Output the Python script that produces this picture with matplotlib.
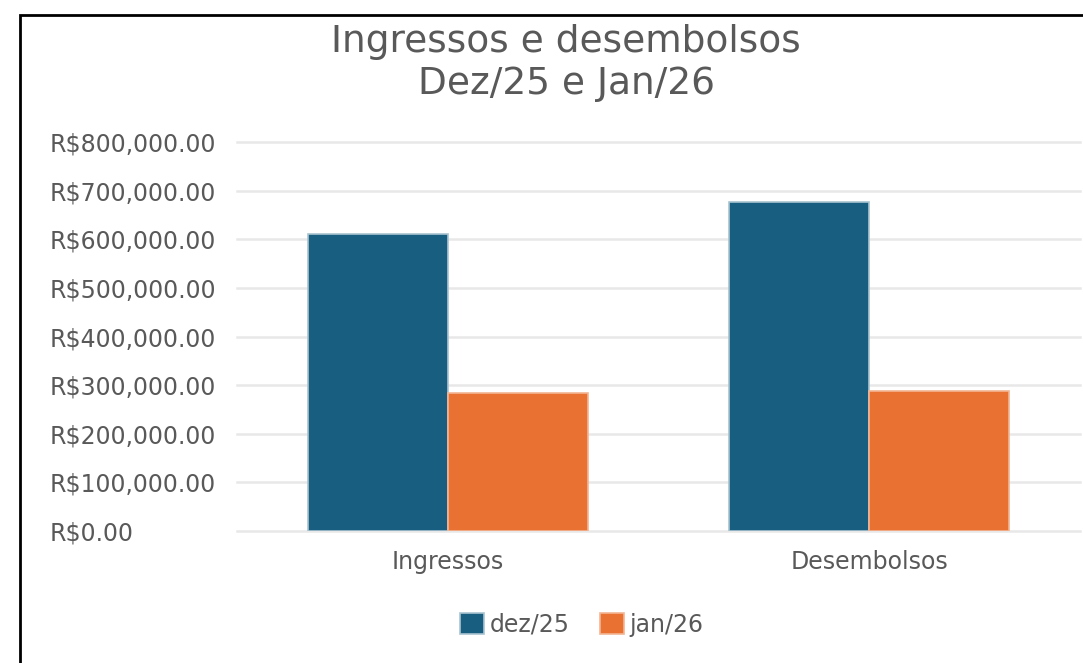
import numpy as np
import matplotlib.pyplot as plt
from matplotlib.patches import Rectangle
from matplotlib.ticker import FuncFormatter

plt.rcParams['font.family'] = ['DejaVu Sans']

categorias = ["Ingressos", "Desembolsos"]
series = ["dez/25", "jan/26"]
dez25 = [611000, 677000]
jan26 = [284000, 288000]
cores = ["#175e80", "#e97132"]
bordas = ["#a9c3d0", "#f3b594"]
cinza = "#595959"

fig = plt.figure(figsize=(10.83, 6.63), dpi=100)
ax = fig.add_axes([237/1083, 132/663, 843/1083, 389/663])

x = np.arange(len(categorias))
w = 0.332
ax.bar(x - w/2, dez25, w, color=cores[0], edgecolor=bordas[0], linewidth=1.2, label=series[0], zorder=3)
ax.bar(x + w/2, jan26, w, color=cores[1], edgecolor=bordas[1], linewidth=1.2, label=series[1], zorder=3)

ax.set_xlim(-0.5, 1.5)
ax.set_ylim(0, 800000)
ax.set_yticks(np.arange(0, 800001, 100000))
ax.yaxis.set_major_formatter(FuncFormatter(lambda v, p: "R${:,.2f}".format(v)))
ax.set_xticks(x)
ax.set_xticklabels(categorias)
ax.tick_params(axis='both', length=0, labelsize=17, colors=cinza)
ax.tick_params(axis='x', pad=14)
ax.tick_params(axis='y', pad=187 * 0.72)
for lab in ax.get_yticklabels():
    lab.set_horizontalalignment('left')
ax.grid(axis='y', color='#e8e8e8', linewidth=1.8, zorder=0)
for gl in ax.get_ygridlines():
    gl.set_clip_on(False)
for s in ax.spines.values():
    s.set_visible(False)

fig.text(566/1083, 1 - 63/663, "Ingressos e desembolsos\nDez/25 e Jan/26", ha='center', va='center',
         fontsize=27, color=cinza, linespacing=1.2)

leg = fig.legend(loc='center', bbox_to_anchor=(582/1083, 1 - 625/663), ncol=2, frameon=False,
                 fontsize=17, handlelength=1.0, handleheight=1.0, handletextpad=0.25, columnspacing=1.3)
for t in leg.get_texts():
    t.set_color(cinza)

fig.patches.append(Rectangle((20/1083, -0.1), 1.2, 1.1 - 15/663, transform=fig.transFigure,
                             fill=False, edgecolor='black', linewidth=2))

plt.savefig("out.png", dpi=100)
